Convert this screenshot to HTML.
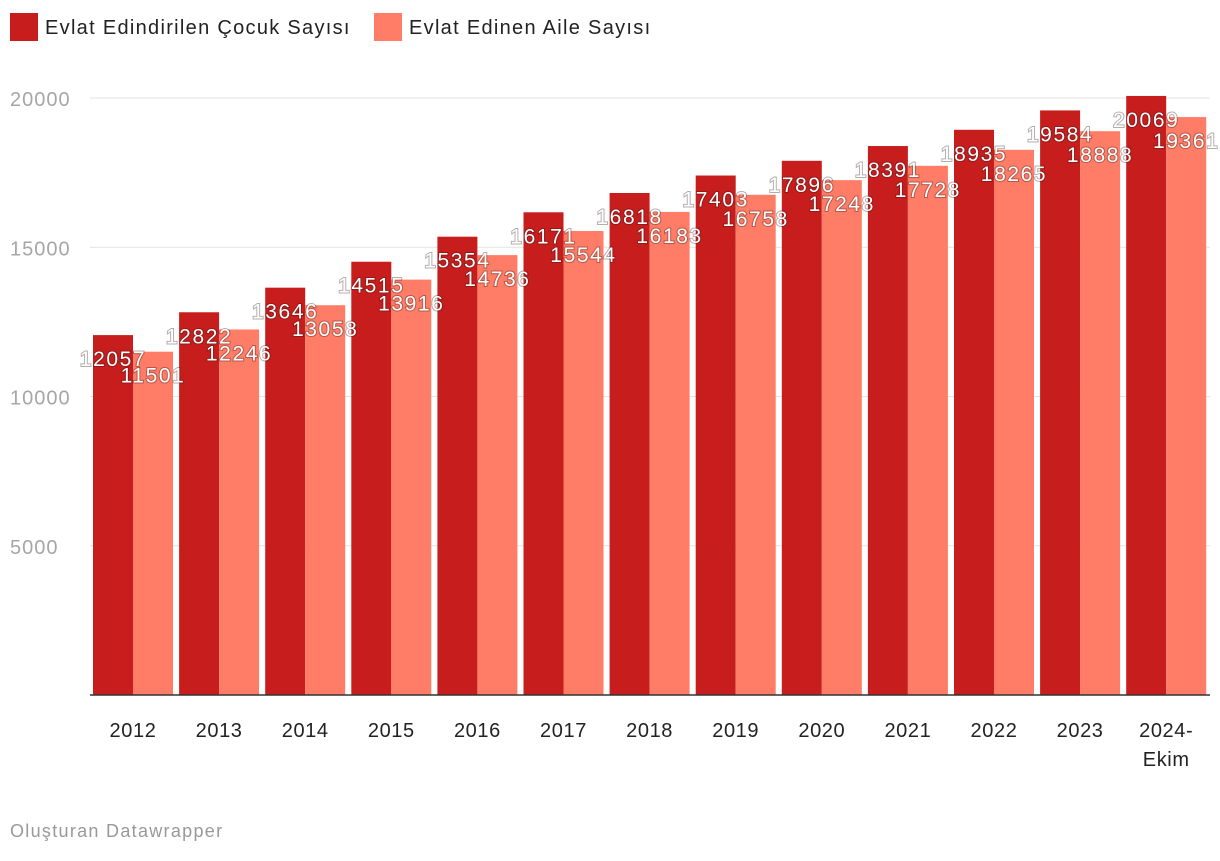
<!DOCTYPE html>
<html><head><meta charset="utf-8"><style>
body{margin:0;background:#fff;font-family:"Liberation Sans",sans-serif;}
svg text{font-family:"Liberation Sans",sans-serif;}
</style></head><body>
<svg id="chart" width="1220" height="856">
<g>
<rect x="10" y="13" width="28" height="28" fill="#c71e1d"/>
<text x="45" y="34" font-size="20" letter-spacing="1.3" fill="#222">Evlat Edindirilen Çocuk Sayısı</text>
<rect x="374" y="13" width="28" height="28" fill="#ff7c66"/>
<text x="409" y="34" font-size="20" letter-spacing="1.3" fill="#222">Evlat Edinen Aile Sayısı</text>
</g>
<g id="grid"></g><g id="bars"></g><g id="labels"></g>
<text x="10" y="837" font-size="18" letter-spacing="1.3" fill="#999">Oluşturan Datawrapper</text>
</svg>
<script>
const categories=["2012","2013","2014","2015","2016","2017","2018","2019","2020","2021","2022","2023","2024-Ekim"];
const children=[12057,12822,13646,14515,15354,16171,16818,17403,17896,18391,18935,19584,20069];
const families=[11501,12246,13058,13916,14736,15544,16183,16758,17248,17728,18265,18888,19361];
const yTicks=[5000,10000,15000,20000];
const NS="http://www.w3.org/2000/svg";
const y=v=>695-v*597/20000;
const x0=i=>93+i*86.1;
function mk(t,a,p){const e=document.createElementNS(NS,t);for(const k in a)e.setAttribute(k,a[k]);p.appendChild(e);return e;}
const grid=document.getElementById('grid'),bars=document.getElementById('bars'),labels=document.getElementById('labels');
yTicks.forEach(v=>{
 const l=mk('line',{x1:90,x2:1210,y1:y(v),y2:y(v),stroke:'#e2e2e2','stroke-width':1},grid);
 
 
 const t=mk('text',{x:10,y:y(v)+8,'font-size':20,'letter-spacing':1,fill:'#a6a6a6'},grid);
 t.textContent=v;
 
 
});
categories.forEach((c,i)=>{
 const r1=mk('rect',{x:x0(i),y:y(children[i]),width:40,height:695-y(children[i]),fill:'#c71e1d'},bars);
 
 
 const r2=mk('rect',{x:x0(i)+40,y:y(families[i]),width:40,height:695-y(families[i]),fill:'#ff7c66'},bars);
 
 
 const parts=c.split('-');
 parts.forEach((p,j)=>{
  const t=mk('text',{x:x0(i)+40,y:737+j*29,'font-size':20,'letter-spacing':0.6,fill:'#222','text-anchor':'middle'},bars);
  t.textContent=p+(j<parts.length-1?'-':'');
  
  
 });
 [[children[i],x0(i)+20],[families[i],x0(i)+60]].forEach(([v,cx])=>{
  const t=mk('text',{x:cx,y:y(v)+31,'font-size':21,'letter-spacing':1.6,fill:'#fff','text-anchor':'middle',style:'paint-order:stroke;stroke:rgba(40,20,20,0.35);stroke-width:2px'},labels);
  t.textContent=v;
  
  
 });
});
const ax=mk('line',{x1:90,x2:1210,y1:695,y2:695,stroke:'#333','stroke-width':1.5},bars);


</script>
</body></html>
